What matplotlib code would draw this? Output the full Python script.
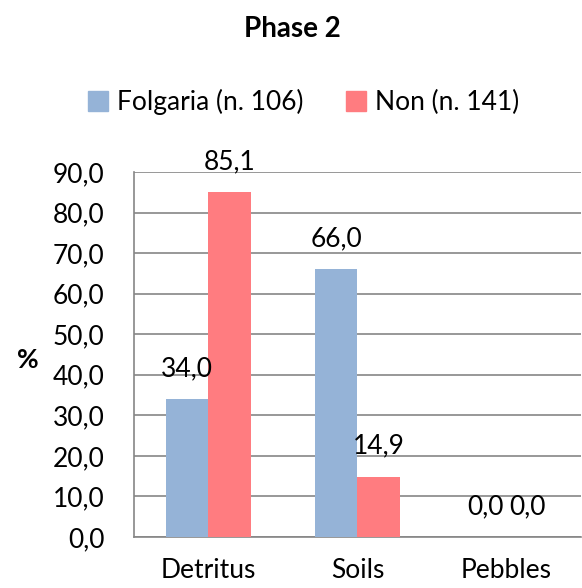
import numpy as np
import matplotlib.pyplot as plt
from matplotlib.patches import Patch

plt.rcParams['font.family'] = ['Lato', 'DejaVu Sans']

categories = ['Detritus', 'Soils', 'Pebbles']
folgaria = [34.0, 66.0, 0.0]
non = [85.1, 14.9, 0.0]
series_names = ['Folgaria (n. 106)', 'Non (n. 141)']
colors = ['#95B3D7', '#FF7C80']

FS = 19

fig = plt.figure(figsize=(5.82, 5.88), dpi=100)
ax = fig.add_axes([0.2302, 0.0867, 0.768, 0.6207])

x = np.arange(len(categories))
w = 0.286
b1 = ax.bar(x - w / 2, folgaria, w, color=colors[0], zorder=3)
b2 = ax.bar(x + w / 2, non, w, color=colors[1], zorder=3)

def fmt(v):
    return f'{v:.1f}'.replace('.', ',')

# value labels above each bar
for bars, vals in [(b1, folgaria), (b2, non)]:
    for rect, v in zip(bars, vals):
        ax.annotate(fmt(v), (rect.get_x() + rect.get_width() / 2, v),
                    xytext=(0, 22), textcoords='offset points',
                    ha='center', va='center', fontsize=FS, color='#000000')

ax.set_ylim(0, 90)
ax.set_xlim(-0.5, 2.5)
ax.set_yticks(np.arange(0, 91, 10))
ax.set_yticklabels([fmt(v) for v in np.arange(0, 91, 10)])
ax.set_xticks(x)
ax.set_xticklabels(categories)
ax.tick_params(axis='both', length=0, labelsize=FS, colors='#000000')
ax.tick_params(axis='y', pad=21)
ax.tick_params(axis='x', pad=15)
ax.yaxis.grid(True, color='#868686', linewidth=1.2, zorder=0)
for side in ['top', 'right']:
    ax.spines[side].set_visible(False)
for side in ['left', 'bottom']:
    ax.spines[side].set_color('#868686')
    ax.spines[side].set_linewidth(1.2)

ax.set_ylabel('%', rotation=0, fontsize=FS, fontweight='bold', va='center', ha='center')
ax.yaxis.set_label_coords(-0.237, 0.485)

fig.text(0.503, 0.95, 'Phase 2', ha='center', va='center', fontsize=20, fontweight='bold')

handles = [Patch(color=c) for c in colors]
fig.legend(handles, series_names, loc='center', bbox_to_anchor=(0.5215, 0.8265), ncol=2,
           frameon=False, fontsize=FS, handlelength=0.75, handleheight=0.75,
           handletextpad=0.35, columnspacing=1.6)

fig.savefig('out.png', dpi=100)
